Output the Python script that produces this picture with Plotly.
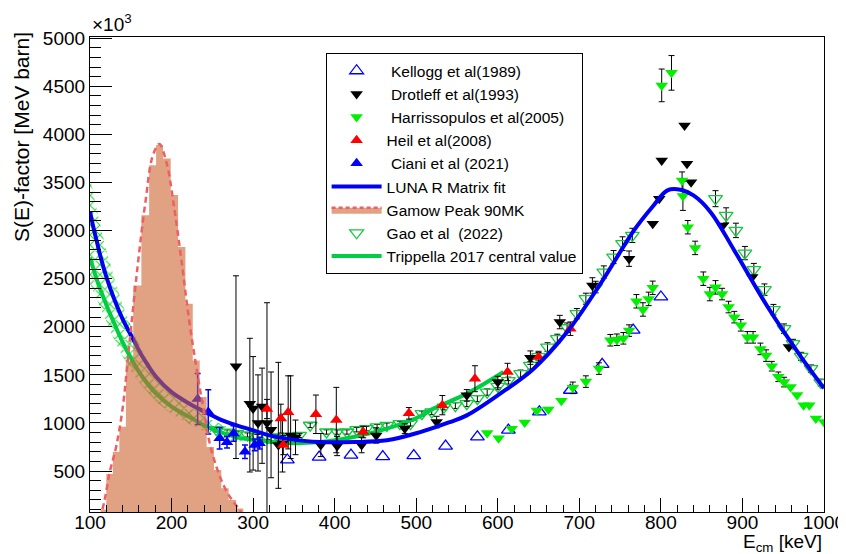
import plotly.graph_objects as go

# ---- data ----
luna_E = [100, 104, 108, 112, 120, 130, 140, 153, 165, 181, 200, 222, 245, 260, 280, 300, 320, 341,
          382, 423, 464, 505, 540, 562, 603, 644, 685, 726, 767, 790, 808, 824, 840, 861, 890, 931, 972, 1000]
luna_S = [3200, 3040, 2900, 2760, 2520, 2280, 2080, 1870, 1680, 1480, 1320, 1200, 1097, 1035, 975, 923, 871, 837,
          801, 801, 819, 905, 1005, 1079, 1305, 1564, 1945, 2448, 3002, 3250, 3418, 3425, 3366, 3192, 2794, 2205, 1685, 1360]

trip_E = [100, 110, 120, 130, 140, 153, 165, 181, 200, 222, 243, 259, 280, 300, 320, 341, 382, 423, 464, 505, 521, 562, 607]
trip_S = [2720, 2450, 2230, 2030, 1840, 1630, 1470, 1305, 1170, 1061, 962, 906, 850, 825, 805, 791, 801, 853, 941, 1070, 1149, 1305, 1530]

band_E = [100, 110, 120, 130, 140, 153, 165, 181, 200, 222, 243, 260, 275, 290]
band_hi = [3550, 3150, 2800, 2500, 2230, 1950, 1740, 1500, 1320, 1180, 1060, 990, 940, 900]
band_lo = [2450, 2250, 2060, 1860, 1690, 1500, 1370, 1220, 1090, 990, 900, 850, 820, 800]

gamow_edges = [113, 120, 128, 136, 144, 153, 163, 172.5, 181, 189.5, 199, 208, 217, 226, 234.5, 243, 252, 261, 270, 279, 288]
gamow_counts = [100, 470, 700, 960, 1650, 2430, 3160, 3680, 3890, 3750, 3370, 2830, 2240, 1650, 1270, 750, 510, 320, 200, 110]
gamow_curve_E = [112, 118, 124, 132, 140, 148, 158, 168, 177, 185, 194, 203, 212, 221, 230, 239, 247, 256, 265, 274, 283, 291]
gamow_curve_S = [0, 200, 480, 750, 1150, 1800, 2600, 3300, 3780, 3900, 3700, 3250, 2700, 2100, 1600, 1150, 780, 520, 330, 200, 100, 0]

kellogg_E = [342, 381, 420, 459, 497, 536, 575, 613, 651, 689, 728, 766, 800]
kellogg_S = [615, 645, 665, 650, 660, 760, 855, 925, 1115, 1340, 1610, 1965, 2310]

drot_E = [279, 296, 300, 306, 311, 317, 322, 331, 336, 346, 352, 383, 403, 433, 451, 486, 525, 562, 600, 640,
          676, 716, 761, 790, 798, 801, 829, 832, 837, 876, 912, 957]
drot_S = [1590, 1200, 1150, 1000, 1170, 1000, 930, 770, 790, 870, 850, 770, 760, 770, 870, 941, 1009, 1287, 1425, 1679,
          2049, 2430, 2708, 3072, 3332, 3730, 4094, 3695, 3504, 3054, 2517, 1789]
drot_up = [940, 680, 540, 500, 400, 1250, 600, 860, 300, 620, 180, 120, 100, 80, 80, 50, 60, 60, 60, 70,
           70, 80, 80, 0, 0, 0, 0, 0, 0, 0, 0, 0]
drot_dn = [960, 710, 640, 500, 590, 1000, 500, 450, 300, 240, 180, 120, 100, 80, 80, 50, 60, 60, 60, 70,
           70, 80, 80, 0, 0, 0, 0, 0, 0, 0, 0, 0]

harr_E = [587, 601, 617, 633, 648, 662, 678, 692, 708, 724, 738, 746, 754, 761, 770, 778, 785, 790, 801, 813,
          826, 827, 833, 842, 852, 860, 867, 875, 883, 890, 898, 906, 913, 922, 929, 936, 944, 951, 959, 967,
          975, 982, 990, 1000]
harr_S = [895, 840, 940, 1005, 1130, 1140, 1230, 1365, 1430, 1565, 1860, 1865, 1880, 1960, 2265, 2180, 2290, 2405, 4510, 4640,
          3520, 3360, 3035, 2820, 2500, 2340, 2410, 2340, 2205, 2100, 2015, 1890, 1890, 1770, 1700, 1590, 1480, 1425, 1375, 1290,
          1185, 1185, 1045, 1010]
harr_err = [0, 0, 0, 0, 0, 0, 0, 60, 60, 60, 60, 60, 60, 60, 70, 70, 70, 70, 170, 180,
            90, 150, 70, 70, 70, 70, 70, 60, 60, 60, 60, 60, 60, 60, 60, 50, 50, 50, 0, 0,
            0, 0, 0, 0]

heil_E = [317, 334, 337, 343, 377, 402, 435, 491, 532, 572, 612, 650, 689]
heil_S = [1145, 1045, 770, 1110, 1090, 1030, 905, 1100, 1185, 1460, 1530, 1685, 1980]
heil_err = [100, 150, 100, 380, 200, 340, 60, 60, 100, 135, 90, 60, 70]

ciani_E = [232, 245, 259, 268, 276, 290, 302, 308]
ciani_S = [1250, 1115, 840, 800, 890, 700, 770, 790]
ciani_err = [265, 230, 110, 60, 80, 70, 60, 60]

gao_E = [255, 268, 280, 293, 305, 318, 330, 345, 357, 370, 390, 403, 415, 427, 439, 452, 464, 480, 493, 507,
         519, 534, 548, 562, 575, 587, 600, 613, 628, 640, 650, 661, 673, 685, 697, 708, 720, 730, 742, 753,
         765, 867, 880, 892, 903, 914, 927, 938, 951, 962, 972, 984, 996]
gao_S = [930, 905, 890, 875, 860, 850, 855, 861, 870, 976, 906, 905, 906, 930, 941, 960, 975, 993, 993, 1097,
         1114, 1165, 1180, 1200, 1252, 1321, 1380, 1440, 1512, 1599, 1690, 1789, 1876, 1990, 2136, 2292, 2413, 2569, 2725, 2864,
         2950, 3332, 3158, 3002, 2766, 2594, 2386, 2178, 1980, 1824, 1692, 1564, 1420]

FONT = "Liberation Sans, Arial, sans-serif"
NB = "\u00a0"
err_style = dict(color="black", thickness=1, width=3)

fig = go.Figure()

# Gao (open green down triangles)
fig.add_trace(go.Scatter(
    x=gao_E, y=gao_S, mode="markers", name="Gao et al" + NB + NB + "(2022)", legendrank=8,
    marker=dict(symbol="triangle-down-open", size=12, color="rgb(20,200,60)", line=dict(width=1.3)),
    error_y=dict(type="percent", value=2.5, **err_style),
))
# Kellogg
fig.add_trace(go.Scatter(
    x=kellogg_E, y=kellogg_S, mode="markers", name=NB + "Kellogg et al(1989)", legendrank=1,
    marker=dict(symbol="triangle-up-open", size=12, color="blue", line=dict(width=1.3)),
))
# Trippella band + central value
fig.add_trace(go.Scatter(
    x=band_E + band_E[::-1], y=band_hi + band_lo[::-1], mode="lines", fill="toself",
    fillcolor="rgba(0,0,0,0)", line=dict(width=0),
    fillpattern=dict(shape="x", fgcolor="rgb(40,215,60)", bgcolor="rgba(0,0,0,0)",
                     size=7, solidity=0.3, fgopacity=1),
    showlegend=False, hoverinfo="skip",
))
fig.add_trace(go.Scatter(
    x=trip_E, y=trip_S, mode="lines", name="Trippella 2017 central value", legendrank=9,
    line=dict(color="rgb(0,204,68)", width=4, shape="spline"),
))
# Drotleff
fig.add_trace(go.Scatter(
    x=drot_E, y=drot_S, mode="markers", name=NB + "Drotleff et al(1993)", legendrank=2,
    marker=dict(symbol="triangle-down", size=11, color="black"),
    error_y=dict(type="data", symmetric=False, array=drot_up, arrayminus=drot_dn, **err_style),
))
# Harrissopulos
fig.add_trace(go.Scatter(
    x=harr_E, y=harr_S, mode="markers", name=NB + "Harrissopulos et al(2005)", legendrank=3,
    marker=dict(symbol="triangle-down", size=11, color="rgb(0,240,0)"),
    error_y=dict(type="data", array=harr_err, **err_style),
))
# Heil
fig.add_trace(go.Scatter(
    x=heil_E, y=heil_S, mode="markers", name="Heil et al(2008)", legendrank=4,
    marker=dict(symbol="triangle-up", size=11, color="red"),
    error_y=dict(type="data", array=heil_err, **err_style),
))
# Ciani
fig.add_trace(go.Scatter(
    x=ciani_E, y=ciani_S, mode="markers", name=NB + "Ciani et al (2021)", legendrank=5,
    marker=dict(symbol="triangle-up", size=11, color="blue"),
    error_y=dict(type="data", array=ciani_err, color="blue", thickness=1.5, width=3),
))
# LUNA R-matrix fit
fig.add_trace(go.Scatter(
    x=luna_E, y=luna_S, mode="lines", name="LUNA R Matrix fit", legendrank=6,
    line=dict(color="rgb(0,0,245)", width=4, shape="spline"),
))
# Gamow peak (translucent histogram drawn on top)
fig.add_trace(go.Scatter(
    x=gamow_edges, y=gamow_counts + [gamow_counts[-1]], mode="lines", line_shape="hv",
    fill="tozeroy", fillcolor="rgba(205,100,50,0.6)", line=dict(width=0),
    showlegend=False, hoverinfo="skip",
))
fig.add_trace(go.Scatter(
    x=gamow_curve_E, y=gamow_curve_S, mode="lines",
    line=dict(color="rgb(238,95,100)", width=2.5, dash="6px,4px", shape="spline"),
    showlegend=False, hoverinfo="skip",
))
fig.add_trace(go.Scatter(
    x=[None], y=[None], mode="lines", fill="toself", name="Gamow Peak 90MK", legendrank=7,
    fillcolor="rgba(205,100,50,0.6)",
    line=dict(color="rgb(238,95,100)", width=2.5, dash="4px,3px"),
))

axis_common = dict(
    showline=True, linecolor="black", linewidth=1.2, mirror=True, showgrid=False, zeroline=False,
    automargin=False, ticks="inside", tickcolor="black", tickwidth=1,
    tickfont=dict(size=19, color="black"),
)

# the page body has an 8px margin, so the figure is shrunk by 8px on the top/left
fig.update_layout(
    width=838, height=546,
    margin=dict(l=82, r=22, t=29, b=42),
    plot_bgcolor="white", paper_bgcolor="white",
    font=dict(family=FONT, color="black"),
    xaxis=dict(range=[100, 1000], dtick=100, tick0=0, ticklen=14, ticklabelstandoff=-7,
               minor=dict(dtick=20, ticklen=7, ticks="inside", tickcolor="black"), **axis_common),
    yaxis=dict(range=[74, 5013], dtick=500, tick0=0, ticklen=22,
               minor=dict(dtick=100, ticklen=11, ticks="inside", tickcolor="black"), **axis_common),
    legend=dict(x=0.321, y=0.966, xanchor="left", yanchor="top", bgcolor="white",
                bordercolor="black", borderwidth=1, font=dict(size=15.5, family=FONT),
                itemwidth=50, tracegroupgap=0),
    annotations=[
        dict(text="\u00d710<sup>3</sup>", xref="paper", yref="paper", x=0, y=1, xanchor="left", yanchor="bottom",
             showarrow=False, font=dict(size=19)),
        dict(text="S(E)-factor [MeV barn]", xref="paper", yref="paper", x=-0.094, y=1.0147, textangle=-90,
             xanchor="center", yanchor="top", showarrow=False, font=dict(size=21)),
        dict(text="E<sub>cm</sub> [keV]", xref="paper", yref="paper", x=1, y=-0.036, xanchor="right",
             yanchor="top", showarrow=False, font=dict(size=19)),
    ],
)

fig.write_html("out.html")
